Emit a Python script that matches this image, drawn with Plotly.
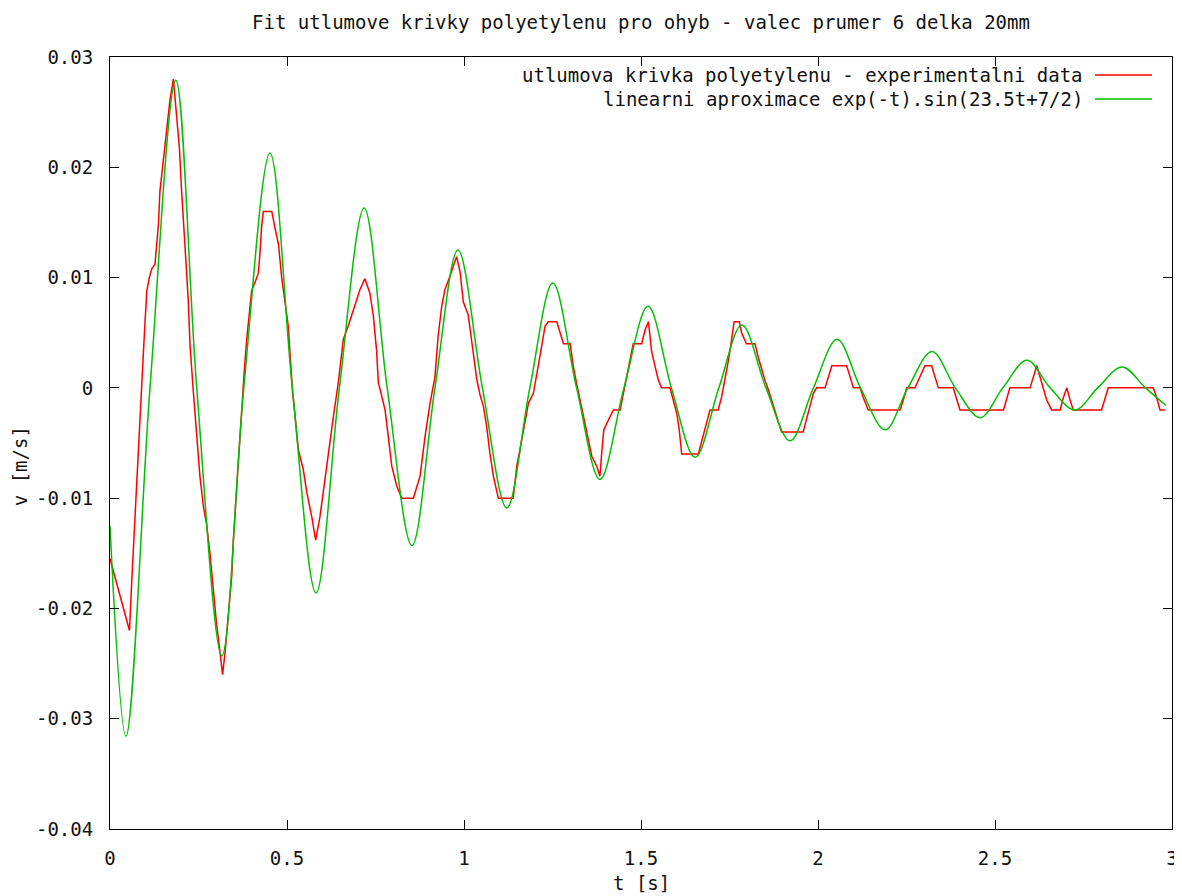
import plotly.graph_objects as go

t_exp = [0.0, 0.055, 0.061, 0.066, 0.071, 0.075, 0.080, 0.085, 0.090, 0.094, 0.099, 0.104,
         0.111, 0.118, 0.127, 0.132, 0.137, 0.141, 0.151, 0.160, 0.169, 0.179, 0.188, 0.196,
         0.202, 0.207, 0.215, 0.221, 0.226, 0.235, 0.245, 0.254, 0.264, 0.273, 0.282, 0.292,
         0.301, 0.311, 0.318, 0.325, 0.334, 0.344, 0.348, 0.358, 0.365, 0.372, 0.379, 0.386,
         0.394, 0.400, 0.410, 0.419, 0.424, 0.428, 0.433, 0.457, 0.466, 0.476, 0.485, 0.494,
         0.504, 0.508, 0.516, 0.523, 0.532, 0.546, 0.556, 0.570, 0.581, 0.593, 0.603, 0.617,
         0.631, 0.645, 0.659, 0.673, 0.687, 0.706, 0.720, 0.734, 0.744, 0.753, 0.758, 0.767,
         0.777, 0.786, 0.796, 0.810, 0.824, 0.857, 0.876, 0.890, 0.904, 0.918, 0.927, 0.937,
         0.946, 0.960, 0.979, 0.989, 0.998, 1.012, 1.026, 1.036, 1.045, 1.055, 1.064, 1.073,
         1.083, 1.097, 1.139, 1.149, 1.158, 1.168, 1.182, 1.196, 1.210, 1.219, 1.229, 1.238,
         1.262, 1.271, 1.281, 1.300, 1.309, 1.318, 1.328, 1.337, 1.347, 1.361, 1.375, 1.384,
         1.389, 1.395, 1.408, 1.422, 1.441, 1.450, 1.460, 1.469, 1.478, 1.502, 1.511, 1.521,
         1.530, 1.540, 1.549, 1.558, 1.582, 1.591, 1.601, 1.608, 1.615, 1.662, 1.671, 1.685,
         1.695, 1.718, 1.728, 1.737, 1.747, 1.756, 1.763, 1.778, 1.784, 1.798, 1.822, 1.831,
         1.841, 1.850, 1.860, 1.869, 1.879, 1.888, 1.897, 1.958, 1.968, 1.977, 1.987, 1.996,
         2.020, 2.030, 2.039, 2.081, 2.090, 2.100, 2.119, 2.128, 2.142, 2.232, 2.241, 2.251,
         2.274, 2.288, 2.302, 2.321, 2.331, 2.340, 2.382, 2.392, 2.401, 2.524, 2.533, 2.542,
         2.599, 2.608, 2.618, 2.627, 2.636, 2.646, 2.660, 2.684, 2.693, 2.703, 2.712, 2.721,
         2.801, 2.811, 2.820, 2.947, 2.957, 2.966, 2.980]
v_exp = [-0.0155, -0.022, -0.0178, -0.0145, -0.0116, -0.0084, -0.0055, -0.0027, 0.0006, 0.003,
         0.006, 0.0088, 0.010, 0.0108, 0.0112, 0.0129, 0.0149, 0.0178, 0.0206, 0.023, 0.026,
         0.028, 0.025, 0.0218, 0.018, 0.0149, 0.0112, 0.008, 0.0039, -0.0002, -0.0043, -0.008,
         -0.0108, -0.0124, -0.0149, -0.0186, -0.0214, -0.024, -0.026, -0.024, -0.021, -0.017,
         -0.014, -0.0088, -0.005, -0.0014, 0.0014, 0.0043, 0.0067, 0.0088, 0.0096, 0.0104,
         0.0124, 0.0145, 0.016, 0.016, 0.0145, 0.013, 0.010, 0.0077, 0.0055, 0.0034, -0.0005,
         -0.0026, -0.0056, -0.0074, -0.0095, -0.0117, -0.0138, -0.0117, -0.0092, -0.0062,
         -0.0026, 0.0005, 0.0044, 0.0056, 0.0071, 0.0089, 0.0099, 0.0086, 0.0065, 0.0034,
         0.0005, -0.0008, -0.002, -0.0044, -0.0071, -0.0089, -0.010, -0.010, -0.008, -0.0044,
         -0.0014, 0.001, 0.0047, 0.0074, 0.0089, 0.0101, 0.0119, 0.0105, 0.0078, 0.0066,
         0.0032, 0.0008, -0.0006, -0.0017, -0.0035, -0.0059, -0.008, -0.010, -0.010, -0.0071,
         -0.0056, -0.0038, -0.0014, -0.0005, 0.0019, 0.0037, 0.0056, 0.006, 0.006, 0.005,
         0.004, 0.004, 0.0019, 0.0004, -0.0011, -0.0023, -0.0041, -0.0062, -0.0071, -0.008,
         -0.0059, -0.0038, -0.0029, -0.002, -0.002, -0.0005, 0.001, 0.0028, 0.004, 0.004,
         0.0052, 0.006, 0.0033, 0.0019, 0.0007, 0.0, 0.0, -0.0011, -0.0023, -0.0038, -0.006,
         -0.006, -0.005, -0.0032, -0.002, -0.002, -0.0008, 0.0007, 0.0025, 0.0044, 0.006,
         0.006, 0.005, 0.004, 0.004, 0.0028, 0.0016, 0.0007, -0.0002, -0.0011, -0.002, -0.0029,
         -0.004, -0.004, -0.0029, -0.0017, -0.0005, 0.0, 0.0, 0.001, 0.002, 0.002, 0.001, 0.0,
         0.0, -0.0009, -0.002, -0.002, -0.0011, 0.0, 0.0, 0.001, 0.002, 0.002, 0.001, 0.0, 0.0,
         -0.0011, -0.002, -0.002, -0.0009, 0.0, 0.0, 0.001, 0.002, 0.001, 0.0, -0.0011, -0.002,
         -0.002, -0.0009, 0.0, -0.0011, -0.002, -0.002, -0.0009, 0.0, 0.0, -0.0009, -0.002,
         -0.002]

# fitted curve (green): start, extrema and zero crossings
t_fit = [0.0, 0.045, 0.113, 0.186, 0.245, 0.316, 0.378, 0.452, 0.515, 0.582, 0.648, 0.718,
         0.783, 0.853, 0.918, 0.983, 1.052, 1.121, 1.186, 1.251, 1.318, 1.384, 1.452, 1.520,
         1.586, 1.653, 1.720, 1.785, 1.853, 1.921, 1.987, 2.054, 2.120, 2.190, 2.254, 2.322,
         2.388, 2.458, 2.522, 2.590, 2.656, 2.726, 2.790, 2.859, 2.925, 2.983]
v_fit = [-0.0125, -0.0316, 0.0, 0.0279, 0.0, -0.0243, 0.0, 0.0213, 0.0, -0.0186, 0.0, 0.0163,
         0.0, -0.0143, 0.0, 0.0125, 0.0, -0.0109, 0.0, 0.0095, 0.0, -0.0083, 0.0, 0.0074,
         0.0, -0.0063, 0.0, 0.0057, 0.0, -0.0048, 0.0, 0.0044, 0.0, -0.0038, 0.0, 0.0033,
         0.0, -0.0027, 0.0, 0.0025, 0.0, -0.002, 0.0, 0.0019, 0.0, -0.0016]

x_ticks = [0, 0.5, 1, 1.5, 2, 2.5, 3]
x_labels = ['0', '0.5', '1', '1.5', '2', '2.5', '3']
y_ticks = [0.03, 0.02, 0.01, 0, -0.01, -0.02, -0.03, -0.04]
y_labels = ['0.03', '0.02', '0.01', '0', '-0.01', '-0.02', '-0.03', '-0.04']

names = ['utlumova krivka polyetylenu - experimentalni data',
         'linearni aproximace exp(-t).sin(23.5t+7/2)']
colors = ['#ff0000', '#00c000']

FONT = dict(family='DejaVu Sans Mono', size=19, color='#111111')

fig = go.Figure()
fig.add_trace(go.Scatter(x=t_exp, y=v_exp, mode='lines', name=names[0],
                         line=dict(color=colors[0], width=1.5)))
fig.add_trace(go.Scatter(x=t_fit, y=v_fit, mode='lines', name=names[1],
                         line=dict(color=colors[1], width=1.5, shape='spline', smoothing=1.0)))

axis_common = dict(showline=True, linecolor='black', linewidth=1, mirror='ticks',
                   ticks='inside', ticklen=9, tickcolor='black', showgrid=False,
                   zeroline=False, tickfont=FONT, ticklabelstandoff=12, automargin=False)

fig.update_xaxes(range=[0, 3], tickvals=x_ticks, ticktext=x_labels, **axis_common)
fig.update_yaxes(range=[-0.04, 0.03], tickvals=y_ticks, ticktext=y_labels, **axis_common)

# gnuplot-like key: text right-aligned, line sample on the right
annotations = [
    dict(text='t [s]', x=0.5, y=-0.07, xref='paper', yref='paper',
         showarrow=False, font=FONT, yanchor='middle'),
    dict(text='v [m/s]', x=-0.0847, y=0.47, xref='paper', yref='paper',
         showarrow=False, font=FONT, textangle=-90, xanchor='center'),
]
shapes = []
key_y = [0.9767, 0.9456]
for name, col, ky in zip(names, colors, key_y):
    annotations.append(dict(text=name, x=0.918, y=ky, xref='paper', yref='paper',
                            xanchor='right', yanchor='middle', showarrow=False, font=FONT))
    shapes.append(dict(type='line', xref='paper', yref='paper', x0=0.9275, x1=0.9812,
                       y0=ky, y1=ky, line=dict(color=col, width=1.5)))

# page body has an 8px margin, so the figure is 8px smaller on each axis
fig.update_layout(
    width=1174, height=888,
    margin=dict(l=102, r=10, t=49, b=67, autoexpand=False),
    paper_bgcolor='white', plot_bgcolor='white',
    showlegend=False,
    title=dict(text='Fit utlumove krivky polyetylenu pro ohyb - valec prumer 6 delka 20mm',
               x=0.5, xref='paper', y=1 - 14 / 888, yref='container',
               xanchor='center', yanchor='middle', font=FONT),
    annotations=annotations,
    shapes=shapes,
)

fig.write_html("out.html")
